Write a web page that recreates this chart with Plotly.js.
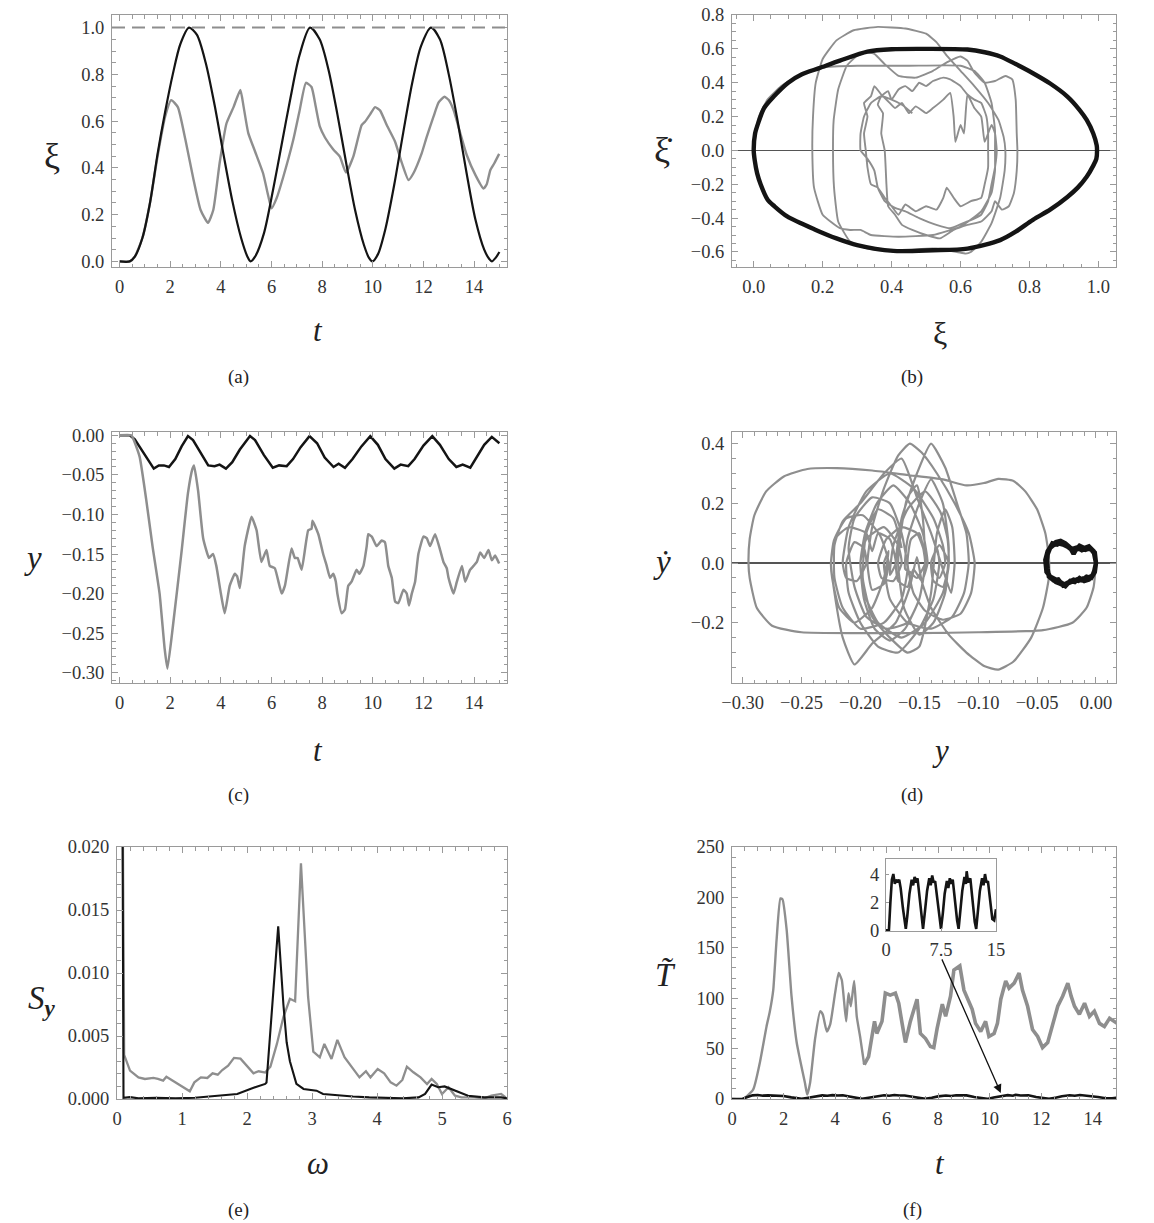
<!DOCTYPE html>
<html><head><meta charset="utf-8">
<script src="https://cdn.plot.ly/plotly-3.0.1.min.js"></script>
<style>body{margin:0;background:#fff}#plot{width:1154px;height:1223px}</style>
</head><body><div id="plot"></div>
<script>
// ---------- DATA ----------
// (a) xi(t)
const aBlack = [[0,0],[0.4,0],[0.6,0.02],[0.9,0.1],[1.2,0.25],[1.5,0.46],[1.8,0.64],[2.1,0.8],[2.4,0.93],[2.74,1.0],[3.05,0.97],[3.4,0.85],[3.75,0.67],[4.1,0.46],[4.45,0.26],[4.8,0.1],[5.05,0.02],[5.17,0],[5.35,0.02],[5.7,0.12],[6.05,0.3],[6.4,0.5],[6.75,0.7],[7.1,0.88],[7.52,1.0],[7.9,0.95],[8.25,0.82],[8.6,0.63],[8.95,0.42],[9.3,0.22],[9.65,0.07],[9.85,0.015],[9.98,0],[10.2,0.03],[10.5,0.14],[10.85,0.33],[11.2,0.55],[11.55,0.76],[11.9,0.92],[12.3,1.0],[12.65,0.95],[13.0,0.8],[13.35,0.6],[13.7,0.38],[14.05,0.18],[14.4,0.05],[14.6,0.01],[14.7,0],[14.85,0.015],[15.0,0.04]];
const aGray = [[0,0],[0.4,0],[0.6,0.02],[0.9,0.1],[1.2,0.25],[1.5,0.45],[1.8,0.62],[2.04,0.69],[2.3,0.66],[2.6,0.52],[2.9,0.36],[3.2,0.22],[3.49,0.165],[3.7,0.22],[3.95,0.42],[4.22,0.59],[4.5,0.66],[4.77,0.733],[4.9,0.66],[5.08,0.55],[5.35,0.47],[5.67,0.376],[5.85,0.29],[6.0,0.227],[6.2,0.27],[6.46,0.36],[6.86,0.52],[7.1,0.64],[7.36,0.764],[7.58,0.746],[7.75,0.66],[7.91,0.576],[8.11,0.53],[8.44,0.479],[8.7,0.448],[8.94,0.38],[9.23,0.448],[9.56,0.583],[9.69,0.597],[9.9,0.63],[10.09,0.66],[10.29,0.645],[10.55,0.583],[10.88,0.512],[11.15,0.42],[11.41,0.348],[11.6,0.376],[11.93,0.462],[12.13,0.533],[12.4,0.62],[12.6,0.68],[12.83,0.704],[13.0,0.69],[13.19,0.647],[13.45,0.55],[13.71,0.455],[14.05,0.37],[14.37,0.312],[14.5,0.33],[14.64,0.39],[14.8,0.42],[14.99,0.46]];
const aLimit = 1.0;

// (b) phase portrait xi, xi-dot
const bBlack = [[0,0],[0.004,0.1],[0.0145,0.17],[0.03,0.25],[0.058,0.318],[0.1,0.4],[0.14,0.45],[0.19,0.486],[0.25,0.53],[0.33,0.584],[0.4,0.598],[0.5,0.6],[0.62,0.596],[0.67,0.58],[0.715,0.555],[0.76,0.51],[0.81,0.456],[0.86,0.395],[0.91,0.318],[0.945,0.24],[0.966,0.18],[0.985,0.1],[0.995,0.03],[0.996,0],[0.994,-0.05],[0.985,-0.09],[0.966,-0.156],[0.94,-0.22],[0.91,-0.275],[0.86,-0.35],[0.81,-0.41],[0.76,-0.48],[0.715,-0.53],[0.62,-0.58],[0.52,-0.59],[0.405,-0.594],[0.3,-0.56],[0.24,-0.52],[0.18,-0.47],[0.097,-0.39],[0.06,-0.33],[0.04,-0.29],[0.02,-0.2],[0.01,-0.136],[0.003,-0.06],[0,0]];
const bGray = [[0,0],[0.004,0.1],[0.015,0.2],[0.04,0.3],[0.08,0.38],[0.13,0.44],[0.2,0.49],[0.3,0.5],[0.45,0.5],[0.6,0.5],[0.64,0.47],[0.67,0.4],[0.69,0.28],[0.7,0.12],[0.7,0],
[0.7,-0.12],[0.69,-0.25],[0.66,-0.36],[0.6,-0.45],[0.52,-0.5],[0.42,-0.51],[0.34,-0.5],[0.31,-0.47],[0.28,-0.47],[0.25,-0.46],[0.2,-0.38],[0.175,-0.22],[0.17,0],
[0.172,0.2],[0.18,0.4],[0.2,0.54],[0.24,0.65],[0.29,0.71],[0.36,0.73],[0.44,0.72],[0.5,0.69],[0.53,0.64],[0.56,0.56],[0.6,0.47],[0.64,0.38],[0.68,0.28],[0.71,0.18],[0.725,0.08],[0.73,0],
[0.728,-0.12],[0.715,-0.28],[0.69,-0.43],[0.66,-0.54],[0.63,-0.6],[0.615,-0.61],[0.59,-0.6],[0.52,-0.58],[0.44,-0.59],[0.37,-0.59],[0.33,-0.58],[0.28,-0.54],[0.245,-0.42],[0.233,-0.22],[0.23,0],
[0.232,0.18],[0.245,0.36],[0.27,0.5],[0.3,0.56],[0.33,0.58],[0.35,0.57],[0.38,0.51],[0.42,0.44],[0.47,0.43],[0.52,0.47],[0.56,0.52],[0.6,0.555],[0.62,0.53],[0.64,0.46],[0.67,0.4],[0.7,0.41],[0.73,0.44],[0.75,0.42],[0.76,0.3],[0.763,0.1],[0.765,0],
[0.763,-0.12],[0.755,-0.25],[0.74,-0.33],[0.72,-0.35],[0.7,-0.3],[0.69,-0.36],[0.66,-0.42],[0.62,-0.44],[0.58,-0.47],[0.54,-0.52],[0.5,-0.5],[0.46,-0.47],[0.43,-0.44],[0.41,-0.38],[0.39,-0.33],[0.385,-0.2],[0.38,0],
[0.37,0.1],[0.375,0.22],[0.36,0.27],[0.37,0.32],[0.39,0.35],[0.4,0.3],[0.42,0.36],[0.44,0.38],[0.46,0.35],[0.48,0.4],[0.5,0.38],[0.52,0.41],[0.55,0.43],[0.57,0.42],[0.6,0.38],[0.62,0.33],[0.64,0.3],[0.66,0.28],[0.675,0.2],[0.68,0.1],[0.68,0],
[0.68,-0.1],[0.67,-0.2],[0.66,-0.28],[0.63,-0.3],[0.6,-0.33],[0.58,-0.28],[0.56,-0.22],[0.55,-0.28],[0.53,-0.35],[0.5,-0.33],[0.47,-0.36],[0.44,-0.32],[0.42,-0.38],[0.4,-0.33],[0.38,-0.28],[0.36,-0.22],[0.34,-0.2],[0.33,-0.1],[0.325,0],
[0.32,0.1],[0.33,0.2],[0.32,0.28],[0.34,0.32],[0.35,0.38],[0.37,0.33],[0.39,0.29],[0.41,0.25],[0.43,0.28],[0.45,0.22],[0.47,0.26],[0.5,0.22],[0.52,0.25],[0.55,0.3],[0.57,0.34],[0.58,0.2],[0.585,0.05],[0.6,0.15],[0.61,0.1],[0.62,0.33],[0.64,0.25],[0.66,0.2],[0.67,0.05],[0.69,0.15],[0.7,0.1],[0.705,0],
[0.7,-0.1],[0.69,-0.2],[0.68,-0.3],[0.66,-0.38],[0.62,-0.42],[0.57,-0.46],[0.53,-0.44],[0.48,-0.4],[0.44,-0.36],[0.41,-0.34],[0.38,-0.3],[0.36,-0.22],[0.35,-0.12],[0.33,-0.05],[0.31,0],
[0.31,0.1],[0.32,0.2],[0.34,0.28],[0.37,0.32],[0.4,0.3],[0.43,0.27],[0.46,0.22]];

// (c) y(t)
const cBlack = [[0,0],[0.4,0],[0.6,-0.005],[0.9,-0.02],[1.2,-0.036],[1.35,-0.042],[1.55,-0.038],[1.75,-0.038],[1.95,-0.04],[2.2,-0.03],[2.45,-0.014],[2.7,-0.001],[2.9,-0.006],[3.2,-0.022],[3.5,-0.038],[3.75,-0.039],[3.95,-0.037],[4.2,-0.042],[4.45,-0.034],[4.75,-0.018],[5.15,-0.001],[5.35,-0.006],[5.7,-0.025],[6.05,-0.041],[6.3,-0.038],[6.6,-0.039],[6.85,-0.03],[7.15,-0.015],[7.5,-0.001],[7.8,-0.01],[8.1,-0.028],[8.45,-0.04],[8.65,-0.036],[8.9,-0.041],[9.2,-0.03],[9.55,-0.014],[9.9,-0.001],[10.2,-0.012],[10.5,-0.03],[10.85,-0.042],[11.1,-0.037],[11.4,-0.039],[11.65,-0.03],[12.0,-0.013],[12.35,-0.001],[12.65,-0.012],[13.0,-0.03],[13.3,-0.04],[13.55,-0.037],[13.85,-0.041],[14.1,-0.028],[14.4,-0.012],[14.7,-0.002],[15,-0.01]];
const cGray = [[0,0],[0.46,0],[0.79,-0.027],[1.05,-0.081],[1.3,-0.14],[1.58,-0.2],[1.78,-0.27],[1.89,-0.295],[2.11,-0.24],[2.44,-0.149],[2.7,-0.073],[2.87,-0.043],[2.94,-0.038],[3.1,-0.07],[3.3,-0.13],[3.53,-0.155],[3.69,-0.15],[3.82,-0.165],[4.0,-0.2],[4.15,-0.225],[4.35,-0.19],[4.55,-0.175],[4.64,-0.178],[4.75,-0.193],[4.94,-0.14],[5.21,-0.103],[5.41,-0.12],[5.6,-0.16],[5.8,-0.145],[5.93,-0.165],[6.13,-0.168],[6.4,-0.2],[6.53,-0.19],[6.79,-0.143],[6.92,-0.155],[7.03,-0.155],[7.19,-0.17],[7.45,-0.12],[7.58,-0.118],[7.62,-0.108],[7.85,-0.125],[8.04,-0.15],[8.18,-0.165],[8.31,-0.18],[8.44,-0.175],[8.54,-0.185],[8.6,-0.2],[8.77,-0.225],[8.9,-0.22],[9.03,-0.19],[9.16,-0.185],[9.36,-0.17],[9.47,-0.175],[9.63,-0.165],[9.76,-0.14],[9.82,-0.125],[9.96,-0.128],[10.15,-0.14],[10.35,-0.133],[10.48,-0.135],[10.61,-0.165],[10.75,-0.18],[10.88,-0.21],[11.01,-0.212],[11.21,-0.195],[11.34,-0.2],[11.43,-0.215],[11.54,-0.2],[11.67,-0.185],[11.8,-0.15],[12.0,-0.128],[12.13,-0.13],[12.26,-0.14],[12.46,-0.125],[12.66,-0.145],[12.79,-0.16],[12.92,-0.168],[12.99,-0.18],[13.19,-0.2],[13.32,-0.185],[13.52,-0.165],[13.65,-0.185],[13.84,-0.17],[13.98,-0.165],[14.11,-0.16],[14.24,-0.148],[14.4,-0.155],[14.57,-0.145],[14.7,-0.158],[14.83,-0.152],[14.99,-0.162]];

// (d) phase portrait y, y-dot
const dBlack = [[0,0],[-0.001,0.03],[-0.004,0.045],[-0.008,0.05],[-0.012,0.043],[-0.016,0.052],[-0.02,0.047],[-0.024,0.055],[-0.028,0.062],[-0.032,0.066],[-0.036,0.06],[-0.039,0.05],[-0.041,0.03],[-0.042,0],[-0.041,-0.03],[-0.039,-0.045],[-0.035,-0.052],[-0.031,-0.062],[-0.027,-0.072],[-0.023,-0.063],[-0.019,-0.056],[-0.015,-0.06],[-0.011,-0.052],[-0.007,-0.05],[-0.003,-0.042],[-0.001,-0.022],[0,0],
[-0.001,0.035],[-0.005,0.05],[-0.009,0.044],[-0.013,0.05],[-0.017,0.045],[-0.019,0.03],[-0.021,0.045],[-0.025,0.06],[-0.029,0.07],[-0.033,0.062],[-0.037,0.066],[-0.04,0.045],[-0.042,0.02],[-0.041,-0.02],[-0.04,-0.045],[-0.036,-0.058],[-0.032,-0.055],[-0.028,-0.075],[-0.024,-0.068],[-0.02,-0.06],[-0.016,-0.055],[-0.012,-0.058],[-0.008,-0.046],[-0.004,-0.05],[-0.001,-0.03],[0,0],
[-0.002,0.04],[-0.006,0.056],[-0.01,0.05],[-0.014,0.058],[-0.018,0.04],[-0.022,0.052],[-0.026,0.066],[-0.03,0.074],[-0.034,0.07],[-0.038,0.058],[-0.041,0.04],[-0.043,0.01],[-0.042,-0.03],[-0.038,-0.05],[-0.034,-0.064],[-0.03,-0.07],[-0.026,-0.078],[-0.022,-0.06],[-0.018,-0.064],[-0.014,-0.05],[-0.01,-0.06],[-0.006,-0.055],[-0.002,-0.036],[0,0]];
const dGray = [[0,0],[-0.002,-0.08],[-0.008,-0.15],[-0.02,-0.2],[-0.045,-0.225],[-0.1,-0.232],[-0.15,-0.235],[-0.2,-0.235],[-0.25,-0.232],[-0.275,-0.21],[-0.288,-0.15],[-0.294,-0.05],[-0.295,0],[-0.294,0.08],[-0.29,0.16],[-0.28,0.24],[-0.265,0.29],[-0.245,0.315],[-0.22,0.318],[-0.19,0.31],[-0.16,0.295],[-0.13,0.28],[-0.11,0.26],[-0.095,0.268],[-0.083,0.282],[-0.07,0.275],[-0.06,0.24],[-0.05,0.18],[-0.043,0.1],[-0.04,0.02],[-0.04,-0.05],[-0.045,-0.15],[-0.055,-0.25],[-0.07,-0.33],[-0.083,-0.357],[-0.095,-0.345],[-0.11,-0.3],[-0.125,-0.24],[-0.14,-0.15],[-0.148,-0.06],[-0.152,0.02],[-0.158,-0.08],[-0.17,-0.2],[-0.19,-0.27],[-0.205,-0.34],[-0.215,-0.25],[-0.222,-0.1],[-0.225,0],
[-0.222,0.08],[-0.212,0.15],[-0.198,0.16],[-0.183,0.09],[-0.176,0],[-0.18,-0.07],[-0.19,-0.09],[-0.194,0],
[-0.19,0.12],[-0.18,0.25],[-0.168,0.36],[-0.158,0.4],[-0.148,0.37],[-0.135,0.3],[-0.12,0.2],[-0.108,0.1],[-0.103,0],
[-0.106,-0.1],[-0.115,-0.17],[-0.13,-0.19],[-0.145,-0.16],[-0.155,-0.1],[-0.16,0],
[-0.157,0.08],[-0.15,0.1],[-0.145,0],
[-0.15,-0.12],[-0.162,-0.22],[-0.175,-0.26],[-0.188,-0.22],[-0.197,-0.12],[-0.2,0],
[-0.196,0.1],[-0.186,0.2],[-0.172,0.26],[-0.158,0.2],[-0.147,0.1],[-0.143,0],
[-0.148,-0.06],[-0.155,-0.02],[-0.16,-0.08],[-0.168,-0.06],[-0.17,0],
[-0.165,0.15],[-0.152,0.3],[-0.14,0.4],[-0.128,0.32],[-0.118,0.2],[-0.11,0.1],[-0.108,0],
[-0.112,-0.1],[-0.122,-0.18],[-0.14,-0.22],[-0.16,-0.2],[-0.175,-0.12],[-0.18,0],
[-0.176,0.04],[-0.18,-0.05],[-0.19,-0.15],[-0.205,-0.2],[-0.218,-0.15],[-0.224,-0.05],[-0.225,0],
[-0.222,0.08],[-0.21,0.12],[-0.195,0.1],[-0.19,0.04],[-0.185,0.1],[-0.175,0.08],[-0.17,0],
[-0.175,-0.04],[-0.172,0.06],[-0.16,0.18],[-0.145,0.24],[-0.132,0.17],[-0.126,0.08],[-0.125,0],
[-0.13,-0.08],[-0.138,-0.06],[-0.14,0],[-0.135,0.05],[-0.133,0],
[-0.138,-0.12],[-0.15,-0.22],[-0.168,-0.3],[-0.185,-0.28],[-0.2,-0.2],[-0.21,-0.1],[-0.212,0],
[-0.205,0.07],[-0.197,0.05],[-0.195,0],[-0.203,-0.06],[-0.212,-0.05],[-0.215,0],
[-0.21,0.12],[-0.195,0.24],[-0.175,0.3],[-0.155,0.25],[-0.138,0.15],[-0.13,0.06],[-0.128,0],
[-0.133,-0.05],[-0.14,0],[-0.133,0.06],[-0.125,0],
[-0.13,-0.1],[-0.145,-0.2],[-0.165,-0.25],[-0.185,-0.2],[-0.197,-0.1],[-0.2,0],
[-0.195,0.08],[-0.18,0.12],[-0.168,0.06],[-0.165,0],[-0.172,-0.06],[-0.182,-0.05],[-0.185,0],[-0.178,0.08],[-0.165,0.12],[-0.152,0.1],[-0.146,0.04],[-0.145,0],[-0.152,-0.05],[-0.158,-0.03],[-0.162,-0.02],
[-0.16,0.08],[-0.15,0.2],[-0.14,0.28],[-0.13,0.2],[-0.125,0.05],[-0.128,-0.1],[-0.138,-0.2],[-0.15,-0.24],[-0.163,-0.15],[-0.168,0],[-0.165,0.12],[-0.16,0.22],[-0.152,0.26],[-0.147,0.15],[-0.145,0],[-0.15,-0.12],[-0.16,-0.2],[-0.178,-0.22],[-0.195,-0.18],[-0.205,-0.08],[-0.21,0.05],[-0.205,0.15],[-0.19,0.22],[-0.175,0.2],[-0.165,0.1],[-0.16,-0.02],[-0.165,-0.12],[-0.18,-0.2],[-0.2,-0.22],[-0.215,-0.15],[-0.222,-0.05],[-0.222,0.06],[-0.215,0.14],[-0.2,0.2],[-0.18,0.3],[-0.165,0.35],[-0.152,0.22],[-0.14,0.1],[-0.13,-0.02],[-0.123,-0.1],[-0.12,0],[-0.122,0.12],[-0.128,0.18],[-0.135,0.1],[-0.14,-0.1],[-0.15,-0.28],[-0.16,-0.3],[-0.175,-0.25],[-0.19,-0.18],[-0.198,-0.05],[-0.195,0.1],[-0.185,0.18],[-0.172,0.15],[-0.165,0.05]];

// (e) spectrum S_y(omega)
const eBlack = [[0.08,0.03],[0.1,0.0001],[0.2,0.00015],[0.33,0.00005],[0.6,0.0001],[0.9,0.00005],[1.2,0.0001],[1.45,0.0002],[1.7,0.0003],[1.85,0.0004],[2.05,0.0008],[2.28,0.0012],[2.3,0.0013],[2.48,0.0137],[2.56,0.0075],[2.61,0.0045],[2.66,0.003],[2.76,0.0012],[2.87,0.0008],[3.07,0.00066],[3.17,0.0004],[3.37,0.0003],[3.63,0.0002],[3.88,0.00013],[4.39,0.00005],[4.64,0.00013],[4.74,0.0004],[4.84,0.00114],[4.94,0.00093],[5.04,0.001],[5.2,0.00066],[5.4,0.00026],[5.65,0.00013],[5.91,0.00013],[6.0,0.00005]];
const eGray = [[0.08,0.03],[0.11,0.0035],[0.2,0.00225],[0.33,0.00172],[0.43,0.00159],[0.56,0.00167],[0.63,0.0016],[0.71,0.00146],[0.76,0.00177],[0.84,0.00151],[0.94,0.00114],[1.04,0.0008],[1.12,0.00061],[1.19,0.00132],[1.29,0.00172],[1.39,0.00167],[1.47,0.00204],[1.55,0.00193],[1.62,0.0023],[1.71,0.00265],[1.8,0.00326],[1.9,0.0032],[2.0,0.00265],[2.1,0.00204],[2.18,0.0022],[2.28,0.0021],[2.36,0.00257],[2.46,0.00437],[2.56,0.0065],[2.66,0.00795],[2.74,0.00776],[2.83,0.0187],[2.94,0.0081],[3.02,0.00376],[3.12,0.00331],[3.19,0.00437],[3.3,0.00318],[3.39,0.00469],[3.5,0.00331],[3.63,0.00246],[3.73,0.00172],[3.83,0.0022],[3.9,0.00172],[4.01,0.00238],[4.11,0.00204],[4.21,0.00132],[4.3,0.00106],[4.39,0.00151],[4.46,0.00257],[4.56,0.00212],[4.67,0.00172],[4.77,0.00119],[4.84,0.00159],[4.92,0.00119],[5.0,0.0004],[5.1,0.00093],[5.2,0.00026],[5.3,0.00013],[5.5,0.00013],[5.65,0.00005],[5.76,0.00026],[5.91,0.0004],[5.98,0.00013]];

// (f) T-tilde(t): smooth early part and noisy later part
const fGrayEarly = [[0,0],[0.43,0],[0.82,9.3],[1.08,36],[1.34,72],[1.47,87],[1.6,108],[1.73,158],[1.88,199],[1.96,198],[2.12,168],[2.31,102],[2.51,56],[2.64,39],[2.83,16],[2.92,4.3],[3.03,16],[3.22,59],[3.42,87],[3.52,84],[3.68,67],[3.81,74],[4.0,105],[4.14,125],[4.26,118],[4.43,77],[4.52,105],[4.61,92],[4.74,117],[4.84,82],[4.97,62],[5.13,34]];
const fGrayLate = [[5.13,34],[5.3,42],[5.43,62],[5.53,77],[5.62,65],[5.82,77],[5.95,105],[6.14,103],[6.34,105],[6.47,95],[6.6,75],[6.73,56],[6.92,77],[7.18,99],[7.31,65],[7.51,60],[7.7,52],[7.83,51],[7.96,70],[8.16,94],[8.29,82],[8.48,102],[8.61,128],[8.84,132],[9.0,108],[9.13,100],[9.32,89],[9.45,75],[9.65,67],[9.84,77],[9.97,62],[10.17,65],[10.3,75],[10.43,99],[10.62,117],[10.75,110],[10.95,115],[11.14,125],[11.27,108],[11.47,92],[11.66,69],[11.86,62],[12.05,51],[12.25,56],[12.44,74],[12.64,92],[12.83,102],[13.03,115],[13.16,102],[13.29,92],[13.48,84],[13.68,95],[13.87,82],[14.06,87],[14.26,75],[14.45,72],[14.65,80],[14.95,75]];
const fBlack = [[0,0],[0.4,0],[0.6,2],[0.8,3.6],[1.0,4.0],[1.2,3.3],[1.4,3.6],[1.6,3.4],[1.8,3.6],[2.0,3.0],[2.3,1.6],[2.6,0.3],[2.7,0.1],[2.9,1.0],[3.2,2.6],[3.5,3.6],[3.7,3.2],[3.9,3.8],[4.1,3.4],[4.3,3.7],[4.5,2.8],[4.8,1.3],[5.05,0.1],[5.3,1.3],[5.6,2.8],[5.9,3.7],[6.1,3.2],[6.3,3.9],[6.5,3.4],[6.7,3.5],[7.0,2.2],[7.3,0.8],[7.5,0.1],[7.75,1.2],[8.0,2.6],[8.3,3.5],[8.5,3.0],[8.7,3.7],[8.9,3.3],[9.1,3.6],[9.4,2.0],[9.7,0.7],[9.9,0.1],[10.15,1.4],[10.4,2.8],[10.7,3.8],[10.9,3.3],[11.0,4.2],[11.2,3.4],[11.5,3.7],[11.8,2.0],[12.1,0.6],[12.3,0.1],[12.55,1.3],[12.8,2.8],[13.1,3.7],[13.3,3.2],[13.5,4.0],[13.7,3.4],[13.9,3.5],[14.2,2.0],[14.5,0.8],[14.75,0.7],[15,1.5]];
const insetXTicks = [0, 7.5, 15];
const insetXLabels = ['0', '7.5', '15'];
const insetYTicks = [0, 2, 4];

// ---------- DRAWING ----------
const W = 1154, H = 1223;
const px = x => x / W, py = y => 1 - y / H;
const GRAY = '#8e8e8e', BLACK = '#141414', FRAME = '#9a9a9a';
const SERIF = '"Liberation Serif", "Times New Roman", "DejaVu Serif", serif';
const TICKFONT = {family: SERIF, size: 18.5, color: '#333'};

function tr(pairs, xa, ya, color, width, shape, smooth) {
  return {x: pairs.map(p => p[0]), y: pairs.map(p => p[1]), xaxis: xa, yaxis: ya,
    type: 'scatter', mode: 'lines', hoverinfo: 'skip', showlegend: false,
    line: {color: color, width: width, shape: shape || 'linear', smoothing: smooth || 1}};
}
function ax(domain, range, dtick, minor, fmt, anchor, extra) {
  return Object.assign({
    domain: domain, range: range, dtick: dtick, tick0: 0, tickformat: fmt, anchor: anchor,
    showline: true, linecolor: FRAME, linewidth: 1, mirror: 'allticks',
    ticks: 'inside', ticklen: 6, tickcolor: FRAME, tickwidth: 1,
    minor: {dtick: minor, tick0: 0, ticks: 'inside', ticklen: 3.5, tickcolor: FRAME, tickwidth: 1, showgrid: false},
    showgrid: false, zeroline: false, fixedrange: true, ticklabelstandoff: 3,
    tickfont: TICKFONT
  }, extra || {});
}

const dxA = [px(112), px(507)], dxB = [px(732), px(1116)];
const dyRow1 = [py(267), py(15)], dyRow2 = [py(683), py(432)], dyRow3 = [py(1099), py(847)];

const data = [
  tr(aGray, 'x', 'y', GRAY, 2.4, 'spline', 0.5),
  tr(aBlack, 'x', 'y', BLACK, 2.2, 'spline', 0.8),
  tr(bGray, 'x2', 'y2', GRAY, 1.9, 'spline', 0.4),
  tr(bBlack, 'x2', 'y2', BLACK, 4.4, 'spline', 0.8),
  tr(cBlack, 'x3', 'y3', BLACK, 2.5, 'linear'),
  tr(cGray, 'x3', 'y3', GRAY, 2.5, 'spline', 0.4),
  tr(dGray, 'x4', 'y4', GRAY, 2.2, 'spline', 0.5),
  tr(dBlack, 'x4', 'y4', BLACK, 4.5, 'linear'),
  tr(eGray, 'x5', 'y5', GRAY, 2.3, 'linear'),
  tr(eBlack, 'x5', 'y5', BLACK, 2.1, 'linear'),
  tr(fGrayEarly, 'x6', 'y6', GRAY, 2.4, 'spline', 0.5),
  tr(fGrayLate, 'x6', 'y6', GRAY, 3.6, 'linear'),
  tr(fBlack, 'x6', 'y6', BLACK, 2.6, 'linear'),
  tr(fBlack, 'x7', 'y7', BLACK, 2.6, 'linear')
];

function lab(text, x, y, size, italic) {
  return {text: italic ? '<i>' + text + '</i>' : text, x: px(x), y: py(y), xref: 'paper', yref: 'paper',
    showarrow: false, xanchor: 'center', yanchor: 'middle', font: {family: SERIF, size: size, color: '#222'}};
}

const insetAxis = {showline: true, linecolor: FRAME, linewidth: 1, mirror: true, ticks: 'inside', ticklen: 3,
  tickcolor: FRAME, showgrid: false, zeroline: false, fixedrange: true, tickfont: TICKFONT, ticklabelstandoff: 2};

const layout = {
  width: W, height: H, margin: {l: 0, r: 0, t: 0, b: 0},
  paper_bgcolor: '#fff', plot_bgcolor: '#fff', showlegend: false, hovermode: false,
  xaxis: ax(dxA, [-0.3, 15.3], 2, 0.5, 'd', 'y'),
  yaxis: ax(dyRow1, [-0.024, 1.054], 0.2, 0.05, '.1f', 'x'),
  xaxis2: ax(dxB, [-0.063, 1.051], 0.2, 0.05, '.1f', 'y2'),
  yaxis2: ax(dyRow1, [-0.689, 0.8], 0.2, 0.05, '.1f', 'x2', {zeroline: true, zerolinecolor: '#555', zerolinewidth: 1.3}),
  xaxis3: ax(dxA, [-0.3, 15.3], 2, 0.5, 'd', 'y3'),
  yaxis3: ax(dyRow2, [-0.313, 0.0042], 0.05, 0.01, '.2f', 'x3'),
  xaxis4: ax(dxB, [-0.309, 0.017], 0.05, 0.01, '.2f', 'y4'),
  yaxis4: ax(dyRow2, [-0.402, 0.439], 0.2, 0.05, '.1f', 'x4', {zeroline: true, zerolinecolor: '#555', zerolinewidth: 1.3, tickvals: [-0.2, 0, 0.2, 0.4], ticktext: ['\u22120.2', '0.0', '0.2', '0.4']}),
  xaxis5: ax([px(117), px(507)], [0, 6], 1, 0.2, 'd', 'y5'),
  yaxis5: ax(dyRow3, [0, 0.02], 0.005, 0.001, '.3f', 'x5'),
  xaxis6: ax(dxB, [0, 14.9], 2, 0.5, 'd', 'y6'),
  yaxis6: ax(dyRow3, [0, 250], 50, 10, 'd', 'x6'),
  xaxis7: Object.assign({domain: [px(886), px(996)], range: [0, 15], anchor: 'y7', tickvals: insetXTicks, ticktext: insetXLabels}, insetAxis),
  yaxis7: Object.assign({domain: [py(931), py(859)], range: [-0.05, 5.07], anchor: 'x7', tickvals: insetYTicks}, insetAxis),
  shapes: [{type: 'line', xref: 'x', yref: 'y', x0: -0.3, x1: 15.3, y0: aLimit, y1: aLimit,
    line: {color: '#8e8e8e', width: 2, dash: '13px,7px'}}],
  annotations: [
    lab('ξ', 52, 156, 36, false), lab('t', 318, 330, 31, true), lab('(a)', 238, 377, 19, false),
    lab('ξ\u0307', 663, 150, 36, false), lab('ξ', 940, 333, 32, false), lab('(b)', 912, 377, 19, false),
    lab('y', 33, 558, 33, true), lab('t', 318, 750, 31, true), lab('(c)', 238, 795, 19, false),
    lab('ẏ', 662, 562, 33, true), lab('y', 940, 750, 31, true), lab('(d)', 912, 795, 19, false),
    {text: '<i>S</i><sub><i><b>y</b></i></sub>', x: px(42), y: py(1000), xref: 'paper', yref: 'paper', showarrow: false,
      xanchor: 'center', yanchor: 'middle', font: {family: SERIF, size: 33, color: '#222'}},
    lab('ω', 318, 1163, 31, true), lab('(e)', 238, 1210, 19, false),
    lab('T\u0303', 665, 975, 33, true), lab('t', 940, 1163, 31, true), lab('(f)', 912, 1210, 19, false),
    {x: 10.43, y: 6, ax: 8.12, ay: 140, xref: 'x6', yref: 'y6', axref: 'x6', ayref: 'y6', text: '',
      showarrow: true, arrowhead: 2, arrowsize: 1.3, arrowwidth: 1.3, arrowcolor: '#111'}
  ]
};

Plotly.newPlot('plot', data, layout, {staticPlot: true, displayModeBar: false});
</script>
</body></html>
